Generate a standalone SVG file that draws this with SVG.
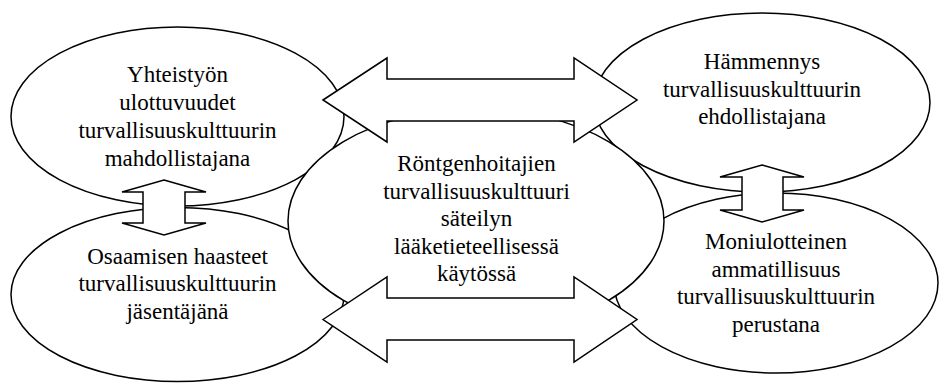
<svg xmlns="http://www.w3.org/2000/svg" width="939" height="383" viewBox="0 0 939 383">
  <style>
    .shape { fill: #ffffff; stroke: #000000; stroke-width: 1.5; stroke-linejoin: miter; }
    .label { font-family: "Liberation Serif", "Times New Roman", Times, serif; font-size: 23px; fill: #000000; text-anchor: middle; }
  </style>
  <rect x="0" y="0" width="939" height="383" fill="#ffffff"/>

  <!-- Outer themes -->
  <g id="node-yhteistyo">
    <ellipse class="shape" cx="177.5" cy="116.5" rx="166.5" ry="89.5"/>
    <text class="label" x="177.5" y="82">Yhteistyön</text>
    <text class="label" x="177.5" y="110">ulottuvuudet</text>
    <text class="label" x="177.5" y="138">turvallisuuskulttuurin</text>
    <text class="label" x="177.5" y="166">mahdollistajana</text>
  </g>

  <g id="node-hammennys">
    <ellipse class="shape" cx="762" cy="102.5" rx="168" ry="89.5"/>
    <text class="label" x="762" y="69">Hämmennys</text>
    <text class="label" x="762" y="96.5">turvallisuuskulttuurin</text>
    <text class="label" x="762" y="124">ehdollistajana</text>
  </g>

  <g id="node-osaaminen">
    <ellipse class="shape" cx="177.5" cy="294.5" rx="166.5" ry="87"/>
    <text class="label" x="177.5" y="263.5">Osaamisen haasteet</text>
    <text class="label" x="177.5" y="291">turvallisuuskulttuurin</text>
    <text class="label" x="177.5" y="318.5">jäsentäjänä</text>
  </g>

  <g id="node-ammatillisuus">
    <ellipse class="shape" cx="776" cy="283" rx="162" ry="90"/>
    <text class="label" x="776" y="249">Moniulotteinen</text>
    <text class="label" x="776" y="276.5">ammatillisuus</text>
    <text class="label" x="776" y="304">turvallisuuskulttuurin</text>
    <text class="label" x="776" y="331.5">perustana</text>
  </g>

  <!-- Core theme, drawn over the outer ellipses -->
  <g id="node-keskus">
    <ellipse class="shape" cx="476" cy="221" rx="188" ry="112"/>
    <text class="label" x="476.5" y="171">Röntgenhoitajien</text>
    <text class="label" x="476.5" y="198.5">turvallisuuskulttuuri</text>
    <text class="label" x="476.5" y="226">säteilyn</text>
    <text class="label" x="476.5" y="253.5">lääketieteellisessä</text>
    <text class="label" x="476.5" y="281">käytössä</text>
  </g>

  <!-- Two-way block arrows -->
  <g id="connectors">
    <polygon class="shape" points="164,180 206,192 185,192 185,223 206,223 164,235 122,223 143,223 143,192 122,192"/>
    <polygon class="shape" points="762,165 804,177 783,177 783,210 804,210 762,222 720,210 742,210 742,177 720,177"/>
    <polygon class="shape" points="323,100 387,58 387,79 574,79 574,58 637,100 574,142 574,121 387,121 387,142"/>
    <polygon class="shape" points="323,319.5 387,277 387,298 574,298 574,277 637,319.5 574,362 574,340 387,340 387,362"/>
  </g>
</svg>
